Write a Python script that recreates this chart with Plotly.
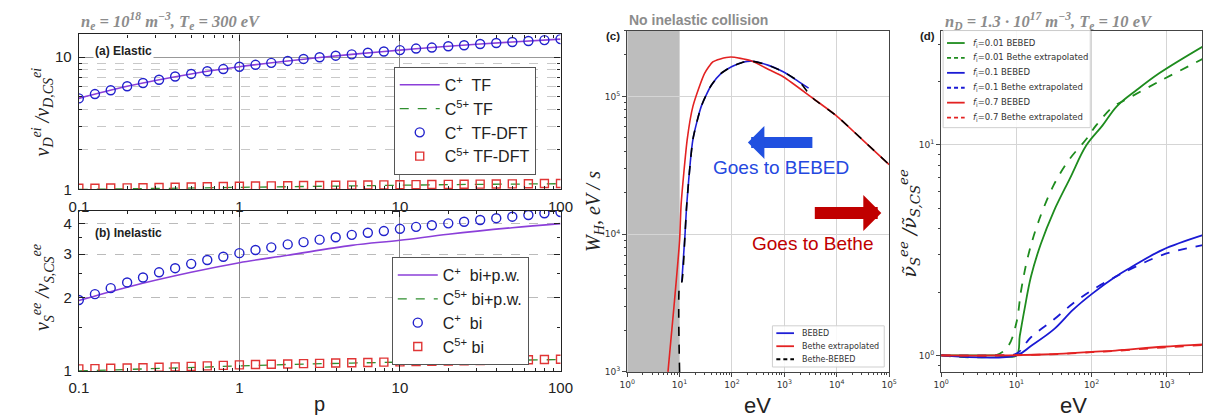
import plotly.graph_objects as go

W, H = 1212, 419

# ---------------- data ----------------
p_pts = [0.1, 0.126, 0.158, 0.2, 0.251, 0.316, 0.398, 0.501, 0.631, 0.794, 1, 1.26, 1.58, 2, 2.51,
         3.16, 3.98, 5.01, 6.31, 7.94, 10, 12.6, 15.8, 20, 25.1, 31.6, 39.8, 50.1, 63.1, 79.4, 100]
# (a) Elastic
a_cp_dft = [4.87, 5.25, 5.61, 6.01, 6.36, 6.73, 7.12, 7.45, 7.80, 8.11, 8.44, 8.73, 9.03, 9.34, 9.67,
            9.95, 10.23, 10.47, 10.76, 11.0, 11.27, 11.58, 11.78, 12.05, 12.26, 12.53, 12.75, 12.98, 13.2, 13.42, 13.65]
a_c5_dft = [1.02, 1.022, 1.025, 1.028, 1.03, 1.034, 1.038, 1.043, 1.048, 1.053, 1.058, 1.061, 1.064, 1.067, 1.07,
            1.072, 1.075, 1.078, 1.08, 1.083, 1.086, 1.088, 1.09, 1.093, 1.095, 1.098, 1.10, 1.102, 1.105, 1.108, 1.11]
p_line = [0.1, 0.2, 0.5, 1, 2, 5, 10, 20, 50, 100]
a_cp_tf = [4.87, 6.01, 7.45, 8.44, 9.34, 10.47, 11.27, 12.05, 12.98, 13.65]
a_c5_tf = [1.0, 1.012, 1.03, 1.045, 1.058, 1.072, 1.08, 1.088, 1.098, 1.105]
# (b) Inelastic
b_cp_bi = [1.95, 2.06, 2.18, 2.30, 2.41, 2.53, 2.63, 2.74, 2.84, 2.93, 3.03, 3.12, 3.20, 3.29, 3.36,
           3.44, 3.52, 3.60, 3.67, 3.73, 3.81, 3.88, 3.94, 4.01, 4.07, 4.14, 4.21, 4.27, 4.34, 4.41, 4.46]
b_c5_bi = [1.02, 1.022, 1.025, 1.028, 1.031, 1.035, 1.039, 1.044, 1.049, 1.054, 1.059, 1.062, 1.065, 1.068, 1.071,
           1.074, 1.077, 1.08, 1.083, 1.086, 1.089, 1.092, 1.094, 1.097, 1.099, 1.102, 1.105, 1.108, 1.111, 1.114, 1.117]
b_cp_pw = [1.94, 2.20, 2.53, 2.77, 2.97, 3.26, 3.42, 3.62, 3.85, 4.0]
b_c5_pw = [1.0, 1.015, 1.035, 1.05, 1.063, 1.077, 1.088, 1.096, 1.106, 1.113]

# (c) W_H vs energy
c_bebed_x = [11, 12.7, 13.7, 18, 26, 40, 62, 100, 169, 242, 500, 950, 2000, 2900]
c_bebed_y = [4.5e3, 1.0e4, 1.65e4, 4.9e4, 8.5e4, 1.2e5, 1.47e5, 1.65e5, 1.78e5, 1.80e5, 1.68e5, 1.51e5, 1.26e5, 1.15e5]
c_bethe_x = [6.0, 8.0, 10, 10.7, 14, 18, 30, 43, 60, 95, 225, 500, 950, 3500, 1e4, 3e4, 1e5]
c_bethe_y = [1e3, 3.3e3, 9.0e3, 1.65e4, 4.9e4, 8.5e4, 1.47e5, 1.78e5, 1.87e5, 1.93e5, 1.82e5, 1.57e5, 1.39e5,
             9.7e4, 7.2e4, 4.9e4, 3.2e4]
c_mix_x = [10, 10, 11, 12.7, 13.7, 18, 26, 40, 62, 100, 169, 242, 500, 950, 2000, 2700, 3500, 1e4, 3e4, 1e5]
c_mix_y = [1e3, 4.3e3, 4.5e3, 1.0e4, 1.65e4, 4.9e4, 8.5e4, 1.2e5, 1.47e5, 1.65e5, 1.78e5, 1.80e5, 1.68e5,
           1.51e5, 1.26e5, 1.09e5, 9.7e4, 7.2e4, 4.9e4, 3.2e4]
c_nocoll = [1, 10]  # shaded energy band

# (d) normalised ee rate vs energy
d_g_s_x = [1, 5, 10, 11.1, 12.8, 15.6, 21.1, 31.4, 51.5, 84.7, 139, 216, 400, 790, 3000]
d_g_s_y = [1, 1, 1, 1.24, 1.65, 2.36, 3.38, 4.83, 6.92, 9.9, 12.3, 15.2, 18.2, 21.8, 29.2]
d_g_d_x = [1, 5.3, 7.8, 10, 11.6, 14.2, 19.1, 31.4, 51.5, 84.7, 114, 195, 263, 870, 3000]
d_g_d_y = [1, 1, 1.11, 1.43, 2.05, 2.93, 4.19, 6.44, 8.58, 10.6, 12.3, 15.2, 16.1, 20.3, 25.5]
d_b_s_x = [1, 10, 15.6, 31.4, 56.9, 103, 207, 323, 875, 3000]
d_b_s_y = [1, 1, 1.11, 1.33, 1.65, 1.97, 2.36, 2.60, 3.17, 3.72]
d_b_d_x = [1, 5.3, 10, 15.6, 31.4, 56.9, 103, 207, 323, 875, 3000]
d_b_d_y = [1, 1, 1.02, 1.22, 1.48, 1.77, 2.05, 2.36, 2.56, 3.0, 3.34]
d_r_x = [1, 6, 30, 100, 207, 875, 3000]
d_r_s_y = [1, 1, 1.015, 1.04, 1.055, 1.10, 1.13]
d_r_d_y = [1, 1, 1.013, 1.037, 1.052, 1.09, 1.12]

# ---------------- helpers ----------------
def px(x):
    return x / W

def py(y):
    return (H - y) / H

SANS = "Arial, Liberation Sans, sans-serif"
SERIF = "Liberation Serif, DejaVu Serif, serif"
MPL = "DejaVu Sans, sans-serif"

PURPLE = "#8b3fd9"
GREEN_A = "#2f8f2f"
BLUE_A = "#2222cc"
RED_A = "#e03535"
C_B, C_R = "#1f1fd6", "#e32222"
G, B, R = "#1e8c1e", "#1a1ad4", "#e32222"

fig = go.Figure()

# (a)
fig.add_trace(go.Scatter(x=p_line, y=a_cp_tf, mode="lines", line=dict(color=PURPLE, width=1.6, shape="spline"),
                         name="C<sup>+</sup>  TF", xaxis="x", yaxis="y", legend="legend"))
fig.add_trace(go.Scatter(x=p_line, y=a_c5_tf, mode="lines", line=dict(color=GREEN_A, width=1.3, dash="dash"),
                         name="C<sup>5+</sup> TF", xaxis="x", yaxis="y", legend="legend"))
fig.add_trace(go.Scatter(x=p_pts, y=a_cp_dft, mode="markers",
                         marker=dict(symbol="circle-open", size=9, color=BLUE_A, line=dict(width=1.4)),
                         name="C<sup>+</sup>  TF-DFT", xaxis="x", yaxis="y", legend="legend"))
fig.add_trace(go.Scatter(x=p_pts, y=a_c5_dft, mode="markers",
                         marker=dict(symbol="square-open", size=8, color=RED_A, line=dict(width=1.4)),
                         name="C<sup>5+</sup> TF-DFT", xaxis="x", yaxis="y", legend="legend"))
# (b)
fig.add_trace(go.Scatter(x=p_line, y=b_cp_pw, mode="lines", line=dict(color=PURPLE, width=1.6, shape="spline"),
                         name="C<sup>+</sup>  bi+p.w.", xaxis="x2", yaxis="y2", legend="legend2"))
fig.add_trace(go.Scatter(x=p_line, y=b_c5_pw, mode="lines", line=dict(color=GREEN_A, width=1.3, dash="dash"),
                         name="C<sup>5+</sup> bi+p.w.", xaxis="x2", yaxis="y2", legend="legend2"))
fig.add_trace(go.Scatter(x=p_pts, y=b_cp_bi, mode="markers",
                         marker=dict(symbol="circle-open", size=9, color=BLUE_A, line=dict(width=1.4)),
                         name="C<sup>+</sup>  bi", xaxis="x2", yaxis="y2", legend="legend2"))
fig.add_trace(go.Scatter(x=p_pts, y=b_c5_bi, mode="markers",
                         marker=dict(symbol="square-open", size=8, color=RED_A, line=dict(width=1.4)),
                         name="C<sup>5+</sup> bi", xaxis="x2", yaxis="y2", legend="legend2"))
# (c)
c_series = [
    (c_bebed_x, c_bebed_y, C_B, "solid", "BEBED"),
    (c_bethe_x, c_bethe_y, C_R, "solid", "Bethe extrapolated"),
    (c_mix_x, c_mix_y, "black", "dash", "Bethe-BEBED"),
]
for xs, ys, col, dash, nm in c_series:
    fig.add_trace(go.Scatter(x=xs, y=ys, mode="lines",
                             line=dict(color=col, width=1.6, dash=dash, shape="spline", smoothing=0.6),
                             name=nm, xaxis="x3", yaxis="y3", showlegend=False))
# (d)
d_series = [
    (d_g_s_x, d_g_s_y, G, "solid", "0.01 BEBED"),
    (d_g_d_x, d_g_d_y, G, "dash", "0.01 Bethe extrapolated"),
    (d_b_s_x, d_b_s_y, B, "solid", "0.1 BEBED"),
    (d_b_d_x, d_b_d_y, B, "dash", "0.1 Bethe extrapolated"),
    (d_r_x, d_r_s_y, R, "solid", "0.7 BEBED"),
    (d_r_x, d_r_d_y, R, "dash", "0.7 Bethe extrapolated"),
]
for xs, ys, col, dash, nm in d_series:
    fig.add_trace(go.Scatter(x=xs, y=ys, mode="lines", line=dict(color=col, width=1.8, dash=dash, shape="spline"),
                             name="f<sub>i</sub>=" + nm, xaxis="x4", yaxis="y4", showlegend=False))

# ---------------- axes ----------------
dA = [px(62), px(553)]
minor_p = [0.2, 0.3, 0.4, 0.5, 0.6, 0.7, 0.8, 0.9, 2, 3, 4, 5, 6, 7, 8, 9, 20, 30, 40, 50, 60, 70, 80, 90]

def ax_ab(domain, anchor, **kw):
    d = dict(type="log", domain=domain, anchor=anchor, showline=True, linecolor="#222", linewidth=1.2,
             mirror="allticks", ticks="inside", ticklen=6, tickcolor="#222", tickwidth=1,
             tickfont=dict(family=SANS, size=15, color="#222"), zeroline=False)
    d.update(kw)
    return d

fig.update_layout(
    xaxis=ax_ab(dA, "y", range=[-1, 2], tickvals=[0.1, 1, 10, 100], ticktext=["0.1", "1", "10", "100"],
                showgrid=True, gridcolor="#888", gridwidth=1.2, ticklabelstandoff=3,
                minor=dict(tickvals=minor_p, ticks="inside", ticklen=3, tickcolor="#222", showgrid=False)),
    yaxis=ax_ab([py(185), py(27)], "x", range=[0, 1.17], tickvals=[1, 10], ticktext=["1", "10"],
                showgrid=True, gridcolor="#999", gridwidth=1, ticklabelstandoff=3,
                minor=dict(tickvals=[2, 3, 4, 5, 6, 7, 8, 9], ticks="inside", ticklen=3, tickcolor="#222",
                           showgrid=True, gridcolor="#c8c8c8", griddash="dash", gridwidth=1)),
    xaxis2=ax_ab(dA, "y2", range=[-1, 2], tickvals=[0.1, 1, 10, 100], ticktext=["0.1", "1", "10", "100"],
                 showgrid=True, gridcolor="#888", gridwidth=1.2, ticklabelstandoff=3,
                 minor=dict(tickvals=minor_p, ticks="inside", ticklen=3, tickcolor="#222", showgrid=False)),
    yaxis2=ax_ab([py(370), py(207)], "x2", range=[0, 0.6535], tickvals=[1, 2, 3, 4], ticktext=["1", "2", "3", "4"],
                 showgrid=True, gridcolor="#bbbbbb", griddash="dash", gridwidth=1, ticklabelstandoff=3,
                 minor=dict(tickvals=[1.5, 2.5, 3.5], ticks="inside", ticklen=3, tickcolor="#222", showgrid=False)),
)

def dec_text(vals):
    return ["10<sup>%d</sup>" % v for v in vals]

def ax_cd(domain, anchor, **kw):
    d = dict(type="log", domain=domain, anchor=anchor, showline=True, linecolor="#444", linewidth=1.2,
             mirror=True, ticks="outside", ticklen=4, tickcolor="#444", tickwidth=1,
             tickfont=dict(family=MPL, size=9, color="#333"), showgrid=True, gridcolor="#d5d5d5", gridwidth=1,
             zeroline=False)
    d.update(kw)
    return d

minor_c = [m * 10 ** k for k in range(0, 5) for m in range(2, 10)]
fig.update_layout(
    xaxis3=ax_cd([px(621), px(888)], "y3", range=[0, 5],
                 tickvals=[1, 10, 100, 1e3, 1e4, 1e5], ticktext=dec_text([0, 1, 2, 3, 4, 5]),
                 minor=dict(tickvals=minor_c, ticks="outside", ticklen=2, tickcolor="#444", showgrid=False)),
    yaxis3=ax_cd([py(371), py(23)], "x3", range=[3, 5.478],
                 tickvals=[1e3, 1e4, 1e5], ticktext=dec_text([3, 4, 5]),
                 minor=dict(tickvals=[m * 10 ** k for k in range(3, 6) for m in range(2, 10)],
                            ticks="outside", ticklen=2, tickcolor="#444", showgrid=False)),
    xaxis4=ax_cd([px(941), px(1207)], "y4", range=[0, 3.468],
                 tickvals=[1, 10, 100, 1e3], ticktext=dec_text([0, 1, 2, 3]),
                 minor=dict(tickvals=minor_c, ticks="outside", ticklen=2, tickcolor="#444", showgrid=False)),
    yaxis4=ax_cd([py(371), py(23)], "x4", range=[-0.078, 1.541],
                 tickvals=[1, 10], ticktext=dec_text([0, 1]),
                 minor=dict(tickvals=[0.9, 2, 3, 4, 5, 6, 7, 8, 9, 20, 30],
                            ticks="outside", ticklen=2, tickcolor="#444", showgrid=False)),
)

shapes = []
# shaded band in (c)
shapes.append(dict(type="rect", x0=c_nocoll[0], x1=c_nocoll[1], xref="x3", yref="y3 domain", y0=0, y1=1,
                   fillcolor="#bdbdbd", line_width=0, layer="below"))

# ---------------- legends ----------------
leg_ab = dict(xref="paper", yref="paper", xanchor="left", yanchor="top", bgcolor="white",
              bordercolor="#555", borderwidth=1, font=dict(family=SANS, size=16, color="#222"),
              itemwidth=40, tracegroupgap=0)
fig.update_layout(
    legend=dict(leg_ab, x=px(383), y=py(60)),
    legend2=dict(leg_ab, x=px(381), y=py(254)),
)

ann = []
def txt(x, y, s, size, color="#222", family=SANS, xanchor="left", angle=0, bg=None):
    d = dict(x=px(x), y=py(y), xref="paper", yref="paper", text=s, showarrow=False, xanchor=xanchor,
             yanchor="middle", textangle=angle, font=dict(family=family, size=size, color=color))
    if bg:
        d["bgcolor"] = bg
    ann.append(d)

def mpl_legend(x0, y0, x1, y1, first_y, step, series, label_fn, size):
    shapes.append(dict(type="rect", xref="paper", yref="paper", x0=px(x0), x1=px(x1), y0=py(y1), y1=py(y0),
                       fillcolor="rgba(255,255,255,0.85)", line=dict(color="#cfcfcf", width=1)))
    for i, s in enumerate(series):
        yy = first_y + i * step
        shapes.append(dict(type="line", xref="paper", yref="paper", x0=px(x0 + 4), x1=px(x0 + 22),
                           y0=py(yy), y1=py(yy), line=dict(color=s[2], width=1.8, dash=s[3] if s[3] != "dash" else "4px,3px")))
        txt(x0 + 28, yy, label_fn(s[4]), size, "#333", MPL)

mpl_legend(769, 324, 883, 366, 331.5, 13.3, c_series, lambda n: n, 8)
mpl_legend(943, 23, 1093, 122, 35.7, 15.2, d_series, lambda n: "<i>f</i><sub>i</sub>=" + n, 8.5)

# ---------------- annotations ----------------
GRAY = "#8c8c8c"
txt(62, 13, "<b><i>n<sub>e</sub> = 10<sup>18</sup> m<sup>−3</sup>, T<sub>e</sub> = 300 eV</i></b>", 16.5, GRAY, SERIF)
txt(621, 12, "<b>No inelastic collision</b>", 14, GRAY, SANS)
txt(943, 13, "<b><i>n<sub>D</sub> = 1.3 · 10<sup>17</sup> m<sup>−3</sup>, T<sub>e</sub> = 10 eV</i></b>", 16.5, GRAY, SERIF)

txt(76, 44, "<b>(a) Elastic</b>", 12, "#222", SANS, bg="white")
txt(76, 229, "<b>(b) Inelastic</b>", 12, "#222", SANS, bg="white")
txt(607, 29, "<b>(c)</b>", 11.5, "#222", SANS, xanchor="center")
txt(927, 29, "<b>(d)</b>", 11.5, "#222", SANS, xanchor="center")

txt(25, 106, "<i>ν<sub>D</sub><sup>ei</sup> /ν<sub>D,CS</sub><sup>ei</sup></i>", 20, "#222", SERIF, "center", -90)
txt(25, 285, "<i>ν<sub>S</sub><sup>ee</sup> /ν<sub>S,CS</sub><sup>ee</sup></i>", 20, "#222", SERIF, "center", -90)
txt(587, 207, "<i>W<sub>H</sub>, eV / s</i>", 20, "#222", SERIF, "center", -90)
txt(909, 220, "<i>ν̃<sub>S</sub><sup>ee</sup> /ν̃<sub>S,CS</sub><sup>ee</sup></i>", 19, "#222",
    "DejaVu Serif, serif", "center", -90)

txt(307, 404, "p", 20, "#222", SANS, "center")
txt(754, 405, "eV", 22, "#222", SANS, "center")
txt(1076, 405, "eV", 22, "#222", SANS, "center")

txt(778, 163, "Goes to BEBED", 19, "#2448e0", SANS, "center")
txt(810, 240, "Goes to Bethe", 19, "#c00000", SANS, "center")

# block arrows
ann.append(dict(x=px(744), y=py(137), xref="paper", yref="paper", ax=66, ay=0, text="", showarrow=True,
                arrowhead=1, arrowsize=0.5, arrowwidth=11, arrowcolor="#2050e0"))
ann.append(dict(x=px(880), y=py(209), xref="paper", yref="paper", ax=-68, ay=0, text="", showarrow=True,
                arrowhead=1, arrowsize=0.5, arrowwidth=12, arrowcolor="#c00000"))

fig.update_layout(annotations=ann, shapes=shapes, width=W, height=H, margin=dict(l=0, r=0, t=0, b=0),
                  paper_bgcolor="white", plot_bgcolor="white", showlegend=True)

fig.write_html("out.html")
